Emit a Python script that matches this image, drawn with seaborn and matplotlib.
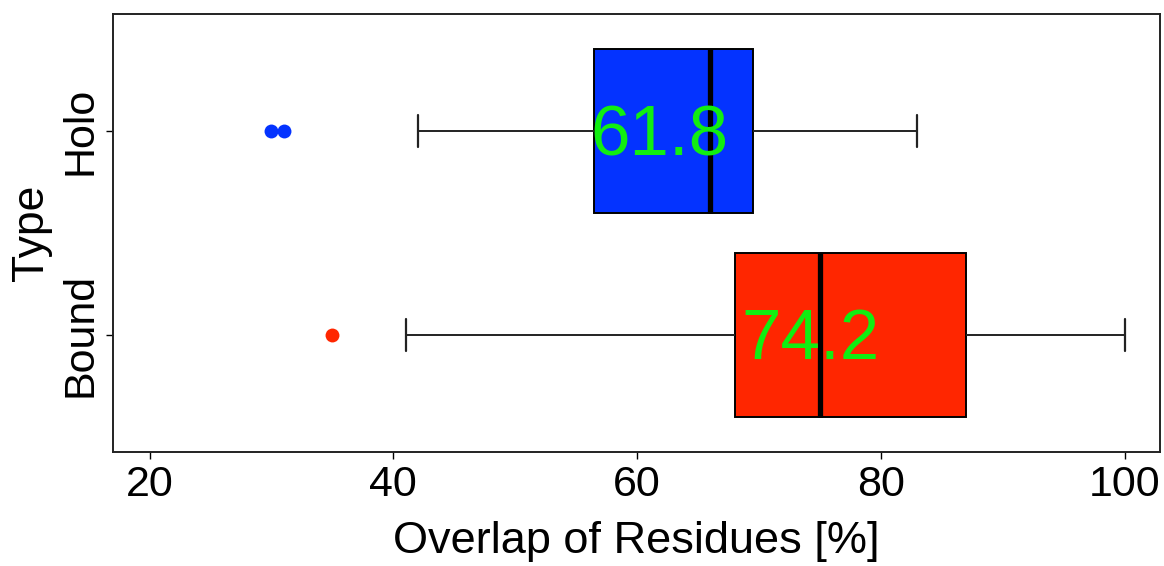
import numpy as np
import pandas as pd
import matplotlib
matplotlib.use("Agg")
import matplotlib.pyplot as plt
import seaborn as sns

categories = ["Holo", "Bound"]
holo_values = [30, 31, 42, 56.5, 64, 65, 66, 68, 69, 69.5, 79.4, 80, 83]
bound_values = [35, 41, 65, 68, 71, 74, 75, 80, 85, 87, 90, 93.6, 100]
mean_labels = ["61.8", "74.2"]
mean_values = [61.8, 74.2]
box_colors = ["#0433ff", "#ff2600"]
x_ticks = [20, 40, 60, 80, 100]

df = pd.DataFrame({
    "Type": [categories[0]] * len(holo_values) + [categories[1]] * len(bound_values),
    "Overlap": holo_values + bound_values,
})

sns.set_theme(style="white")
plt.rcParams["font.family"] = ["Liberation Sans", "DejaVu Sans"]
for k in ["text.color", "axes.labelcolor", "xtick.color", "ytick.color"]:
    plt.rcParams[k] = "black"

fig = plt.figure(figsize=(11.64, 5.66), dpi=100)
ax = fig.add_axes([113 / 1164, 1 - 452 / 566, (1160 - 113) / 1164, (452 - 14) / 566])

common = dict(
    data=df, x="Overlap", y="Type", hue="Type", order=categories, hue_order=categories,
    palette=box_colors, orient="h", width=0.8, legend=False, ax=ax,
    saturation=1,
    boxprops=dict(edgecolor="black", linewidth=1.4),
    whiskerprops=dict(color="#222222", linewidth=1.4),
    capprops=dict(color="#222222", linewidth=1.6),
    medianprops=dict(color="black", linewidth=3.8),
    flierprops=dict(marker="o", markersize=10, markeredgewidth=0),
)
try:
    sns.boxplot(capwidths=0.16, **common)
except TypeError:
    ax.cla()
    sns.boxplot(**common)

# color the fliers to match boxes
for line in ax.lines:
    if line.get_marker() == "o":
        y = line.get_ydata()
        if len(y):
            idx = int(round(np.mean(y)))
            line.set_markerfacecolor(box_colors[idx])
            line.set_markeredgecolor(box_colors[idx])

for i, (lab, m) in enumerate(zip(mean_labels, mean_values)):
    ax.text(m, i + 0.03, lab, color="#11ee11", fontsize=51, ha="center", va="center")

ax.set_xlim(17.0, 102.9)
ax.set_ylim(1.574, -0.574)
ax.set_xticks(x_ticks)
ax.tick_params(axis="x", labelsize=31, length=5, width=1, direction="out", bottom=True, pad=4)
ax.tick_params(axis="y", labelsize=31, length=5, width=1, direction="out", left=True, pad=4)
for lab in ax.get_yticklabels():
    lab.set_rotation(90)
    lab.set_va("center")
ax.set_xlabel("Overlap of Residues [%]", fontsize=32.5, labelpad=12)
ax.set_ylabel("Type", fontsize=32, labelpad=6)
for s in ax.spines.values():
    s.set_color("#222222")
    s.set_linewidth(1.4)

fig.savefig("out.png", dpi=100)
